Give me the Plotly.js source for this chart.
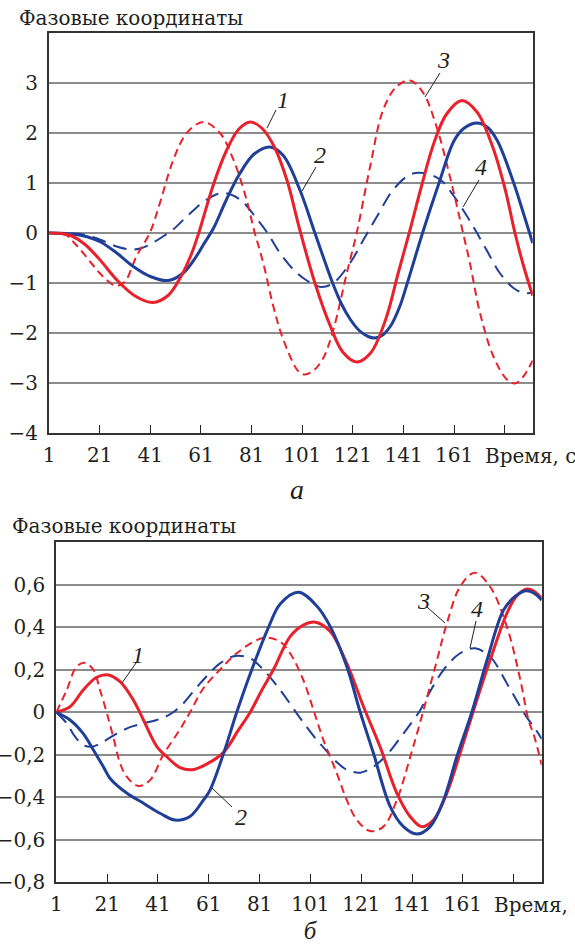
<!DOCTYPE html>
<html>
<head>
<meta charset="utf-8">
<script src="https://cdn.plot.ly/plotly-3.0.1.min.js"></script>
<style>
html,body{margin:0;padding:0;background:#fff;overflow:hidden;font-family:"DejaVu Serif","Liberation Serif",serif;color:#231f20;}
#wrap{position:relative;width:575px;height:945px;overflow:hidden;}
#chart{position:absolute;left:0;top:0;width:575px;height:945px;}
.lbl{position:absolute;white-space:nowrap;font-family:"DejaVu Serif","Liberation Serif",serif;color:#231f20;z-index:5;}
.ttl{font-size:20px;line-height:20px;}
.xl{font-size:20px;line-height:20px;}
.pan{font-family:"Liberation Serif",serif;font-style:italic;text-align:center;width:40px;}
</style>
</head>
<body>
<div id="wrap">
  <div id="chart"></div>
  <div class="lbl ttl" style="left:19px;top:8px;">Фазовые координаты</div>
  <div class="lbl ttl" style="left:12px;top:516px;">Фазовые координаты</div>
  <div class="lbl xl" style="left:485px;top:446px;">Время, с</div>
  <div class="lbl xl" style="left:494px;top:895px;">Время, с</div>
  <div class="lbl pan" style="left:277px;top:476px;font-size:28px;line-height:28px;">а</div>
  <div class="lbl pan" style="left:290px;top:918px;font-size:25px;line-height:25px;">б</div>
</div>
<script>
// ---------- DATA ----------
// Panel "а"
const xTickVals = [1, 21, 41, 61, 81, 101, 121, 141, 161, 181];
const xTickText = ["1", "21", "41", "61", "81", "101", "121", "141", "161", ""];
const aYTickVals = [-4, -3, -2, -1, 0, 1, 2, 3];
const aYTickText = ["−4", "−3", "−2", "−1", "0", "1", "2", "3"];

const a1_t = [1, 6, 10, 15, 21, 28, 35, 42, 48, 53, 57, 60, 66, 71, 76, 80.5, 85, 90, 95, 100, 106, 112, 117, 122.5, 128, 134, 139, 143.5, 148, 153, 158, 164, 170, 176, 181, 185, 188.5, 192];
const a1_v = [0, -0.01, -0.06, -0.22, -0.53, -0.95, -1.26, -1.39, -1.25, -0.88, -0.45, -0.02, 0.98, 1.64, 2.08, 2.22, 2.1, 1.72, 1.05, 0.07, -1.0, -1.85, -2.38, -2.58, -2.4, -1.72, -0.78, 0.05, 0.92, 1.8, 2.38, 2.65, 2.42, 1.75, 0.9, 0.0, -0.68, -1.25];

const a2_t = [1, 8, 14, 21, 28, 34, 41, 48, 54, 59, 62, 66, 71, 76, 82, 88.3, 93.5, 100, 106, 113, 116.5, 120, 123.5, 127, 129.7, 132.5, 136, 139.5, 142.5, 148.5, 155, 161, 165, 170, 174, 178, 184.5, 188, 192];
const a2_v = [0, -0.01, -0.05, -0.17, -0.41, -0.66, -0.87, -0.95, -0.8, -0.48, -0.23, 0.1, 0.66, 1.16, 1.58, 1.72, 1.55, 0.87, 0.0, -1.0, -1.42, -1.73, -1.95, -2.07, -2.1, -2.05, -1.85, -1.47, -1.0, 0.0, 1.0, 1.85, 2.1, 2.2, 2.12, 1.85, 1.0, 0.45, -0.2];

const a3_t = [1, 5, 8, 11, 14.5, 18, 21, 24, 27, 29.5, 31.6, 35.5, 40.8, 44.8, 50, 55.4, 61.9, 68.5, 73.8, 79, 82, 85.6, 89.6, 93.5, 99.5, 102, 105.5, 109.3, 113.3, 118.6, 122.5, 127.8, 133, 138.3, 143.6, 148.8, 154, 159.3, 164.5, 167.2, 171.2, 176.5, 181.8, 185, 188.3, 192];
const a3_v = [0, -0.01, -0.05, -0.2, -0.4, -0.62, -0.8, -0.95, -1.05, -1.03, -0.93, -0.47, 0, 0.6, 1.45, 2.0, 2.22, 2.0, 1.47, 0.67, 0.05, -0.6, -1.47, -2.13, -2.77, -2.83, -2.75, -2.5, -1.93, -0.8, 0.0, 1.33, 2.47, 2.93, 3.05, 2.8, 2.13, 1.13, 0.0, -0.6, -1.6, -2.47, -2.93, -3.01, -2.87, -2.55];

const a4_t = [1, 10, 14.5, 21, 27.7, 33, 37, 40.8, 46, 50, 55.4, 63.3, 69.8, 76.4, 83, 87, 92.2, 97.5, 102.8, 108.5, 113.3, 119.9, 125, 130.5, 137, 143.6, 148.8, 155.4, 160.7, 165.9, 170, 174, 179, 184.4, 188.5, 192];
const a4_v = [0, -0.01, -0.03, -0.13, -0.27, -0.33, -0.31, -0.23, -0.07, 0.07, 0.33, 0.67, 0.8, 0.67, 0.29, 0.02, -0.4, -0.73, -0.95, -1.08, -1.0, -0.6, -0.15, 0.33, 0.87, 1.17, 1.2, 1.07, 0.75, 0.35, 0.0, -0.36, -0.8, -1.1, -1.2, -1.19];

// Panel "б"
const bYTickVals = [-0.8, -0.6, -0.4, -0.2, 0, 0.2, 0.4, 0.6];
const bYTickText = ["−0,8", "−0,6", "−0,4", "−0,2", "0", "0,2", "0,4", "0,6"];

const b1_t = [1, 6.4, 11.6, 16.9, 21.5, 26.1, 31.3, 35.3, 40.5, 45, 49.7, 54.5, 60, 66.7, 72.7, 77.3, 81.9, 86.4, 93, 98.2, 103, 108.8, 115.3, 121.9, 128.4, 135, 140.2, 144.8, 149.4, 154.7, 159.9, 165.2, 171.7, 178.3, 182, 186.2, 189, 192];
const b1_v = [0, 0.026, 0.105, 0.165, 0.176, 0.144, 0.058, -0.036, -0.16, -0.215, -0.26, -0.27, -0.245, -0.19, -0.083, 0, 0.105, 0.2, 0.356, 0.41, 0.424, 0.38, 0.23, 0.026, -0.162, -0.38, -0.49, -0.538, -0.507, -0.38, -0.193, 0.01, 0.246, 0.466, 0.545, 0.58, 0.57, 0.536];

const b2_t = [1, 6.4, 11.6, 15.6, 19.5, 22.1, 28.7, 35.3, 41.8, 47.7, 53.6, 58.9, 61.5, 66.7, 72, 77.9, 84.5, 89.1, 96.3, 103.5, 108.8, 115.3, 120.6, 125.8, 132.4, 137.6, 142.9, 148.1, 153.4, 158.6, 164.5, 170.5, 177, 182, 186, 189, 192];
const b2_v = [0, -0.036, -0.1, -0.177, -0.256, -0.31, -0.38, -0.428, -0.475, -0.507, -0.49, -0.413, -0.366, -0.198, 0, 0.2, 0.4, 0.51, 0.565, 0.5, 0.403, 0.215, 0, -0.193, -0.444, -0.538, -0.573, -0.538, -0.413, -0.209, 0, 0.246, 0.481, 0.55, 0.572, 0.56, 0.528];

const b3_t = [1, 5.1, 9, 12.3, 15.6, 18.2, 20.8, 23.4, 26.1, 28.7, 33.3, 37.9, 43.1, 49.7, 53.6, 58.9, 65.4, 72, 79.9, 83.8, 89.1, 93, 98.2, 102.5, 106.1, 111.4, 115.3, 119.3, 124.5, 129.7, 135, 140.3, 145.5, 150.8, 154.7, 159.9, 165.6, 171.7, 178.3, 183.6, 186.8, 189, 192];
const b3_v = [0, 0.105, 0.215, 0.233, 0.2, 0.105, 0, -0.115, -0.24, -0.303, -0.347, -0.319, -0.2, -0.08, 0, 0.113, 0.2, 0.278, 0.34, 0.351, 0.332, 0.278, 0.152, 0.0, -0.13, -0.287, -0.413, -0.507, -0.559, -0.538, -0.413, -0.209, 0.01, 0.246, 0.419, 0.591, 0.657, 0.591, 0.403, 0.152, -0.036, -0.11, -0.248];

const b4_t = [1, 5.1, 8.4, 11.6, 14.9, 19.5, 24.8, 30, 35.3, 40.5, 45, 49.7, 57.6, 65.4, 71.4, 77.3, 82.5, 89.1, 95.6, 99.6, 103.5, 106.1, 111.4, 115.3, 120.6, 125.8, 131.1, 137.6, 144.2, 146.8, 153.4, 159.9, 165.8, 171.7, 178.3, 183.6, 186.2, 189, 192];
const b4_v = [0, -0.052, -0.115, -0.154, -0.162, -0.138, -0.1, -0.07, -0.052, -0.036, -0.015, 0.026, 0.136, 0.23, 0.265, 0.254, 0.2, 0.105, -0.005, -0.07, -0.13, -0.165, -0.235, -0.27, -0.284, -0.256, -0.2, -0.1, 0.01, 0.07, 0.2, 0.278, 0.301, 0.262, 0.136, 0.026, -0.025, -0.07, -0.125];

const curveNames = ["1", "2", "3", "4"];

// ---------- STYLE ----------
const RED = "#e8212b";
const BLUE = "#1f3f98";
const SERIF = "DejaVu Serif, Liberation Serif, serif";
const ITALIC = "Liberation Serif";
const TXT = "#231f20";
const W = 575, H = 945;
const px = x => x / W;
const py = y => 1 - y / H;

function curve(t, v, color, width, dash, xa, ya) {
  return {
    x: t, y: v, type: "scatter", mode: "lines", xaxis: xa, yaxis: ya,
    line: {color: color, width: width, dash: dash, shape: "spline", smoothing: 1},
    hoverinfo: "skip", showlegend: false
  };
}

const traces = [
  curve(a4_t, a4_v, BLUE, 2, "14px,8px", "x", "y"),
  curve(a3_t, a3_v, RED, 2, "8px,5px", "x", "y"),
  curve(a2_t, a2_v, BLUE, 3, "solid", "x", "y"),
  curve(a1_t, a1_v, RED, 3, "solid", "x", "y"),
  curve(b4_t, b4_v, BLUE, 2, "14px,8px", "x2", "y2"),
  curve(b3_t, b3_v, RED, 2, "8px,5px", "x2", "y2"),
  curve(b1_t, b1_v, RED, 3, "solid", "x2", "y2"),
  curve(b2_t, b2_v, BLUE, 3, "solid", "x2", "y2")
];

const tickFont = {family: SERIF, size: 20, color: TXT};

function xAxis(domain, anchor) {
  return {
    domain: domain, anchor: anchor, range: [1, 192],
    tickmode: "array", tickvals: xTickVals, ticktext: xTickText,
    ticks: "inside", ticklen: 8, tickwidth: 1.3, tickcolor: "#222",
    showline: true, linecolor: "#333", linewidth: 2, mirror: true,
    showgrid: false, zeroline: false, tickfont: tickFont,
    ticklabelstandoff: 3, fixedrange: true
  };
}
function yAxis(domain, anchor, range, vals, text) {
  return {
    domain: domain, anchor: anchor, range: range,
    tickmode: "array", tickvals: vals, ticktext: text,
    ticks: "", showline: true, linecolor: "#333", linewidth: 2, mirror: true,
    showgrid: true, gridcolor: "#8c8c8c", gridwidth: 1.6, zeroline: false,
    tickfont: tickFont, ticklabelstandoff: 5, fixedrange: true
  };
}

const lab = (x, y, text) => ({
  xref: "paper", yref: "paper", x: px(x), y: py(y), text: text,
  showarrow: false, xanchor: "center", yanchor: "middle",
  font: {family: ITALIC, size: 24, color: TXT, style: "italic"}
});

const annotations = [
  lab(283, 100, curveNames[0]),
  lab(320, 155, curveNames[1]),
  lab(443, 60, curveNames[2]),
  lab(481, 167, curveNames[3]),
  lab(138, 655, curveNames[0]),
  lab(241, 817, curveNames[1]),
  lab(423, 601, curveNames[2]),
  lab(477, 609, curveNames[3])
];

const leader = (x0, y0, x1, y1) => ({
  type: "line", xref: "paper", yref: "paper",
  x0: px(x0), y0: py(y0), x1: px(x1), y1: py(y1),
  line: {color: TXT, width: 1}
});
const shapes = [
  leader(276, 110, 267, 128),
  leader(316, 167, 302, 191),
  leader(440, 73, 425, 97),
  leader(479, 180, 463, 207),
  leader(136, 663, 122, 683),
  leader(232, 807, 212, 788),
  leader(427, 607, 445, 623),
  leader(476, 621, 470, 648)
];

const layout = {
  width: W, height: H,
  margin: {l: 0, r: 0, t: 0, b: 0},
  paper_bgcolor: "rgba(0,0,0,0)", plot_bgcolor: "#fff",
  showlegend: false,
  font: {family: SERIF, size: 20, color: TXT},
  xaxis: xAxis([px(49), px(532.7)], "y"),
  yaxis: yAxis([py(433), py(33)], "x", [-4, 4], aYTickVals, aYTickText),
  xaxis2: xAxis([px(56.3), px(541.7)], "y2"),
  yaxis2: yAxis([py(882.3), py(542.3)], "x2", [-0.8, 0.8], bYTickVals, bYTickText),
  annotations: annotations,
  shapes: shapes
};

Plotly.newPlot("chart", traces, layout, {displayModeBar: false});
</script>
</body>
</html>
